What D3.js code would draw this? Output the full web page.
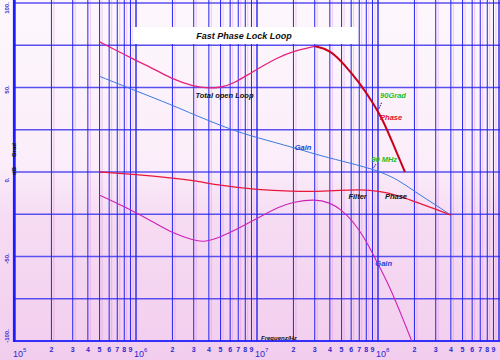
<!DOCTYPE html>
<html>
<head>
<meta charset="utf-8">
<script src="https://cdn.jsdelivr.net/npm/d3@7"></script>
<style>
  html, body { margin: 0; padding: 0; background: #fbeefa; }
  svg { display: block; font-family: "Liberation Sans", Arial, sans-serif; }
</style>
</head>
<body>
<div id="chart"></div>
<script>
// values: [frequency in Hz, dB or degrees]
const totalPhase = [
  [5e5, 77], [1e6, 66], [1.5e6, 60], [2e6, 55], [3e6, 50.5], [4e6, 49.5],
  [5e6, 50], [6.4e6, 52.3], [8.8e6, 58.5], [1.5e7, 68], [2e7, 71.5], [3e7, 74.4],
  [4e7, 72.4], [5.3e7, 63.5], [7.1e7, 52.3], [8.6e7, 43.5], [1.1e8, 31],
  [1.35e8, 15.5], [1.67e8, 0]
];
const totalGain = [
  [5e5, 56.6], [1e6, 48], [2e6, 39.5], [3e6, 34], [6e6, 25.2], [1e7, 20.3],
  [2e7, 14.5], [3e7, 10.6], [5e7, 6.5], [1e8, 1], [1.5e8, -5], [2e8, -11.5],
  [3e8, -19.5], [4e8, -25.5]
];
const filterPhase = [
  [5e5, 0], [1e6, -1.5], [2e6, -3.5], [3e6, -5], [5e6, -8], [1e7, -10.5],
  [2e7, -11.5], [3e7, -11.6], [5e7, -10.8], [7e7, -10.5], [1e8, -11],
  [1.5e8, -14], [2e8, -17.5], [3e8, -22], [4e8, -25.5]
];
const filterGain = [
  [5e5, -13.7], [7e5, -18.5], [1e6, -24], [1.5e6, -31], [2e6, -36], [3e6, -40.5],
  [3.7e6, -41.5], [5e6, -38.5], [7e6, -33.5], [1e7, -27.5], [1.5e7, -20.7],
  [2e7, -17.7], [3e7, -16], [4e7, -18], [5e7, -22.5], [6e7, -28], [7e7, -34.5],
  [8e7, -41], [9e7, -48], [1e8, -54.5], [1.25e8, -68], [1.5e8, -81.6], [1.9e8, -100]
];
const decades = [5, 6, 7, 8];
const minorDigits = [2, 3, 4, 5, 6, 7, 8, 9];
const yTicks = [100, 50, 0, -50, -100];
const yGrid = [100, 75, 50, 25, 0, -25, -50, -75, -100];

// text labels, anchored in data space
const labels = [
  { text: "Total open Loop", f: 3.1e6, v: 44, color: "#111" },
  { text: "Gain", f: 2.05e7, v: 13, color: "#1f3fd8" },
  { text: "90Grad", f: 1.04e8, v: 43.5, color: "#22c022" },
  { text: "Phase", f: 1.04e8, v: 31, color: "#e01028" },
  { text: "90 MHz", f: 8.8e7, v: 5.8, color: "#22c022" },
  { text: "Filter", f: 5.7e7, v: -16, color: "#111" },
  { text: "Phase", f: 1.14e8, v: -16, color: "#111" },
  { text: "Gain", f: 9.5e7, v: -55.5, color: "#1f3fd8" }
];
const pointers = [
  { from: [1.07e8, 41], to: [1.02e8, 37.5] },
  { from: [9.6e7, 4.6], to: [9.1e7, 2] }
];

const width = 500, height = 360;
const x = d3.scaleLog().domain([1e5, 1e9]).range([15, 499]);
const y = d3.scaleLinear().domain([-100, 100]).range([341, 3]);

const svg = d3.select("#chart").append("svg")
  .attr("width", width).attr("height", height);

const defs = svg.append("defs");
const grad = defs.append("linearGradient").attr("id", "paper")
  .attr("x1", 0).attr("y1", 0).attr("x2", 0).attr("y2", 1);
grad.append("stop").attr("offset", "0%").attr("stop-color", "#fdf7fc");
grad.append("stop").attr("offset", "45%").attr("stop-color", "#fbeefa");
grad.append("stop").attr("offset", "60%").attr("stop-color", "#f6dcf3");
grad.append("stop").attr("offset", "100%").attr("stop-color", "#f2cdee");

svg.append("rect").attr("width", width).attr("height", height).attr("fill", "url(#paper)");

// grid
const vLines = [];
decades.forEach(d => {
  vLines.push({ f: Math.pow(10, d), major: true });
  minorDigits.forEach(k => vLines.push({ f: k * Math.pow(10, d), major: false }));
});
vLines.push({ f: 1e9, major: true });

svg.append("g").selectAll("line.pink")
  .data(vLines.filter(d => !d.major))
  .join("line")
  .attr("x1", d => x(d.f) + 2.5).attr("x2", d => x(d.f) + 2.5)
  .attr("y1", 0).attr("y2", 341)
  .attr("stroke", "#e070e0").attr("stroke-opacity", 0.35).attr("stroke-width", 1);

svg.append("g").selectAll("line")
  .data(yGrid)
  .join("line")
  .attr("x1", 14).attr("x2", width)
  .attr("y1", d => y(d)).attr("y2", d => y(d))
  .attr("stroke", "#5a4ff0").attr("stroke-width", 1.3);

svg.append("g").selectAll("line")
  .data(vLines)
  .join("line")
  .attr("x1", d => x(d.f)).attr("x2", d => x(d.f))
  .attr("y1", 0).attr("y2", 341)
  .attr("stroke", "#2424f0")
  .attr("stroke-width", d => d.major ? 1.4 : 1);

// axis frame
svg.append("line").attr("x1", 14).attr("x2", 14).attr("y1", 0).attr("y2", 342)
  .attr("stroke", "#1c1cff").attr("stroke-width", 2.2);
svg.append("line").attr("x1", 14).attr("x2", width).attr("y1", 341).attr("y2", 341)
  .attr("stroke", "#1c1cff").attr("stroke-width", 1.6);

// title box
svg.append("rect").attr("x", 133).attr("y", 27).attr("width", 224).attr("height", 17)
  .attr("fill", "#ffffff");
svg.append("text").attr("x", 244).attr("y", 38.5)
  .attr("text-anchor", "middle")
  .attr("font-size", 9).attr("font-weight", "bold").attr("font-style", "italic")
  .attr("fill", "#111").text("Fast Phase Lock Loop");

// curves
const line = d3.line()
  .x(d => x(d[0])).y(d => y(d[1]))
  .curve(d3.curveBasis);

svg.append("path").datum(totalGain).attr("d", line)
  .attr("fill", "none").attr("stroke", "#3a78e0").attr("stroke-width", 1);

svg.append("path").datum(filterPhase).attr("d", line)
  .attr("fill", "none").attr("stroke", "#e8183c").attr("stroke-width", 1.3);

svg.append("path").datum(filterGain).attr("d", line)
  .attr("fill", "none").attr("stroke", "#cc22b4").attr("stroke-width", 1.1);

svg.append("path").datum(totalPhase.filter(d => d[0] <= 3e7)).attr("d", line)
  .attr("fill", "none").attr("stroke", "#e6207a").attr("stroke-width", 1.3);
svg.append("path").datum(totalPhase.filter(d => d[0] >= 3e7)).attr("d", line)
  .attr("fill", "none").attr("stroke", "#c8001c").attr("stroke-width", 2);

// curve labels
svg.append("g").selectAll("text")
  .data(labels)
  .join("text")
  .attr("x", d => x(d.f)).attr("y", d => y(d.v))
  .attr("font-size", 7.5).attr("font-weight", "bold").attr("font-style", "italic")
  .attr("fill", d => d.color)
  .text(d => d.text);

svg.append("g").selectAll("line")
  .data(pointers)
  .join("line")
  .attr("x1", d => x(d.from[0])).attr("y1", d => y(d.from[1]))
  .attr("x2", d => x(d.to[0])).attr("y2", d => y(d.to[1]))
  .attr("stroke", "#111").attr("stroke-width", 0.9).attr("stroke-dasharray", "1.5,1");

// x tick labels
const xLab = svg.append("g").attr("fill", "#2a2ad0")
  .attr("font-weight", "bold");
xLab.selectAll("text.minor")
  .data(vLines.filter(d => !d.major))
  .join("text")
  .attr("x", d => x(d.f)).attr("y", 352)
  .attr("text-anchor", "middle").attr("font-size", 7)
  .text(d => Math.round(d.f / Math.pow(10, Math.floor(Math.log10(d.f) + 1e-9))));

const dec = xLab.selectAll("text.dec")
  .data(decades)
  .join("text")
  .attr("x", d => x(Math.pow(10, d)) - 2).attr("y", 357)
  .attr("font-size", 9).attr("font-weight", "normal");
dec.append("tspan").text("10");
dec.append("tspan").attr("dy", -5).attr("font-size", 6).text(d => d);

svg.append("text").attr("x", 261).attr("y", 340)
  .attr("font-size", 6).attr("font-weight", "bold").attr("font-style", "italic")
  .attr("fill", "#111").text("Frequenz/Hz");

// y tick labels, rotated
svg.append("g").selectAll("text")
  .data(yTicks)
  .join("text")
  .attr("transform", d => {
    const cy = Math.max(8, Math.min(336, y(d) + (d === 0 ? 8 : 2)));
    return `translate(9,${cy}) rotate(-90)`;
  })
  .attr("text-anchor", "middle").attr("font-size", 6).attr("font-weight", "bold")
  .attr("fill", "#2a2ad0")
  .text(d => d + ".");

svg.append("text").attr("transform", `translate(16,150) rotate(-90)`)
  .attr("text-anchor", "middle").attr("font-size", 6).attr("font-weight", "bold")
  .attr("fill", "#111").text("Grad");
svg.append("text").attr("transform", `translate(16,171) rotate(-90)`)
  .attr("text-anchor", "middle").attr("font-size", 6).attr("font-weight", "bold")
  .attr("fill", "#111").text("dB");
</script>
</body>
</html>
